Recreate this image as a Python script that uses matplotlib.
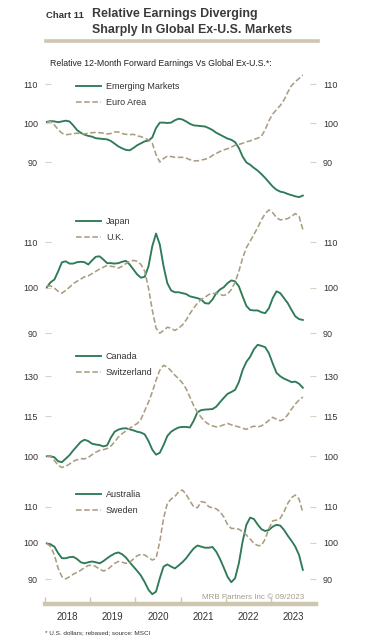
import matplotlib
matplotlib.use("Agg")
import matplotlib.pyplot as plt
import numpy as np

plt.rcParams["font.family"] = ["Liberation Sans", "DejaVu Sans"]

# monthly values, Jan 2018 .. Sep 2023 (rebased = 100)
emerging = [100.3, 100.5, 100.4, 100.2, 100.4, 100.6, 100.4, 99.4, 98.2, 97.5, 97.0, 96.7,
            96.5, 96.1, 96.0, 95.9, 95.8, 95.4, 94.7, 94.0, 93.5, 93.1, 93.0, 93.6,
            94.3, 94.8, 95.3, 95.5, 96.3, 98.7, 100.1, 100.1, 100.0, 100.1, 100.7, 101.1,
            100.9, 100.4, 99.8, 99.4, 99.3, 99.2, 99.1, 98.7, 98.2, 97.5, 97.0, 96.5,
            96.0, 95.7, 95.1, 93.6, 91.4, 89.9, 89.3, 88.5, 87.8, 86.9, 85.9, 84.8,
            83.7, 82.9, 82.4, 82.2, 81.8, 81.5, 81.2, 81.0, 81.4]
euro_area = [100.2, 100.4, 99.5, 98.3, 97.4, 97.0, 97.1, 97.3, 97.4, 97.3, 97.2, 97.4,
             97.5, 97.6, 97.5, 97.4, 97.2, 97.3, 97.7, 97.7, 97.3, 97.1, 97.0, 97.1,
             96.7, 96.5, 96.1, 95.7, 94.8, 91.9, 90.0, 90.9, 91.5, 91.4, 91.2, 91.2,
             91.2, 91.0, 90.6, 90.3, 90.3, 90.5, 90.7, 91.0, 91.7, 92.2, 92.7, 93.1,
             93.4, 93.8, 94.3, 94.5, 94.8, 95.2, 95.4, 95.8, 96.1, 96.6, 98.3, 100.6,
             102.3, 103.4, 104.5, 105.9, 107.9, 109.6, 110.6, 111.4, 112.3]
japan = [100.1, 101.2, 101.8, 103.6, 105.6, 105.8, 105.3, 105.3, 105.6, 105.7, 105.6, 105.1,
         106.0, 106.8, 106.9, 106.2, 105.4, 105.4, 105.3, 105.4, 105.7, 105.9, 105.1, 104.0,
         102.9, 102.2, 102.4, 104.7, 109.1, 111.9, 109.5, 104.7, 101.0, 99.4, 99.0, 99.0,
         98.8, 98.6, 98.1, 97.9, 97.7, 97.4, 96.6, 96.5, 97.4, 98.8, 99.6, 100.1,
         101.0, 101.6, 101.4, 100.3, 98.1, 96.0, 95.1, 95.0, 95.0, 94.6, 94.4, 95.5,
         97.7, 99.2, 98.8, 97.7, 96.6, 95.1, 93.7, 93.1, 92.9]
uk = [100.3, 100.4, 99.9, 99.2, 98.8, 99.4, 100.1, 100.9, 101.4, 101.9, 102.4, 102.6,
      103.1, 103.6, 104.1, 104.5, 104.9, 104.7, 104.6, 104.3, 104.7, 105.3, 105.8, 106.0,
      105.8, 105.1, 103.6, 99.9, 95.1, 91.1, 90.0, 90.6, 91.3, 91.1, 90.6, 91.1,
      91.8, 92.9, 94.3, 95.5, 96.6, 97.4, 97.9, 98.5, 98.7, 98.8, 98.5, 98.3,
      98.6, 99.6, 101.2, 103.6, 106.5, 108.8, 110.2, 111.7, 113.2, 114.9, 116.3, 117.1,
      116.5, 115.4, 114.9, 115.0, 115.2, 115.7, 116.3, 115.7, 112.8]
canada = [100.0, 100.0, 99.6, 98.1, 97.8, 99.1, 100.4, 102.2, 103.8, 105.4, 106.2, 105.7,
          104.7, 104.4, 104.2, 103.7, 104.1, 107.0, 109.2, 110.0, 110.4, 110.5, 110.1, 109.7,
          109.2, 108.9, 108.2, 105.7, 102.5, 100.6, 101.3, 104.2, 107.6, 109.2, 110.1, 110.8,
          111.0, 111.0, 110.8, 113.3, 116.5, 117.3, 117.5, 117.6, 117.7, 118.6, 120.3, 121.9,
          123.4, 124.1, 124.9, 127.8, 132.3, 135.4, 137.3, 140.1, 141.8, 141.4, 140.9, 138.6,
          134.8, 131.3, 130.0, 129.1, 128.5, 127.8, 128.0, 127.2, 125.7]
switzerland = [100.0, 99.9, 98.4, 96.6, 95.8, 96.2, 97.1, 98.1, 98.7, 99.1, 99.0, 99.6,
               100.6, 101.5, 102.2, 102.5, 102.9, 103.8, 105.4, 107.2, 108.5, 109.5, 110.5, 111.4,
               112.3, 113.9, 117.1, 120.3, 124.1, 128.5, 132.3, 134.1, 133.5, 132.0, 130.4, 129.1,
               127.5, 125.3, 122.2, 119.0, 116.5, 114.6, 113.0, 112.0, 111.4, 111.0, 111.3, 111.8,
               112.3, 111.8, 111.4, 111.0, 110.5, 110.1, 110.8, 111.3, 111.0, 111.4, 112.3, 113.5,
               114.6, 113.9, 113.3, 113.9, 115.6, 117.7, 119.6, 121.1, 122.2]
australia = [99.9, 99.6, 99.0, 97.2, 95.8, 95.8, 96.1, 96.2, 95.6, 94.7, 94.4, 94.7,
             94.9, 94.7, 94.4, 95.0, 95.8, 96.5, 97.1, 97.4, 96.9, 96.0, 94.7, 93.5,
             92.3, 91.0, 89.2, 87.1, 85.9, 86.6, 90.3, 93.5, 94.1, 93.5, 93.0, 93.8,
             94.7, 95.8, 97.2, 98.5, 99.3, 99.0, 98.7, 98.7, 98.9, 97.6, 95.6, 93.2,
             90.7, 89.2, 90.3, 94.4, 100.4, 105.0, 107.0, 106.6, 105.1, 103.8, 103.3, 103.6,
             104.5, 105.0, 104.8, 103.6, 102.0, 100.6, 99.0, 96.7, 92.6]
sweden = [99.9, 99.0, 96.7, 93.0, 90.7, 90.1, 90.7, 91.4, 91.9, 92.5, 93.2, 93.8,
          93.9, 93.5, 92.8, 92.3, 92.6, 93.5, 94.4, 94.9, 94.7, 94.4, 94.7, 95.6,
          96.5, 96.9, 96.7, 96.0, 95.3, 95.8, 100.4, 106.8, 110.9, 112.1, 112.8, 114.1,
          114.6, 113.4, 111.6, 110.0, 109.7, 111.4, 111.2, 110.0, 109.7, 109.4, 108.6, 107.2,
          105.1, 104.0, 104.0, 103.8, 103.1, 102.2, 101.1, 99.9, 99.3, 99.3, 101.1, 104.0,
          106.1, 106.3, 106.8, 108.6, 110.9, 112.5, 113.2, 112.1, 108.4]

months = np.arange(len(emerging))
t = 2018 + (months + 0.5) / 12.0
years = [2018, 2019, 2020, 2021, 2022, 2023]

panels = [
    ("Emerging Markets", emerging, "Euro Area", euro_area, [90, 100, 110]),
    ("Japan", japan, "U.K.", uk, [90, 100, 110]),
    ("Canada", canada, "Switzerland", switzerland, [100, 115, 130]),
    ("Australia", australia, "Sweden", sweden, [90, 100, 110]),
]
# panel pixel extents (top, bottom) and y limits
boxes = [(70, 200, 80.26, 113.59), (205, 338, 88.94, 118.18),
         (340, 472, 94.1, 143.6), (478, 604, 83.2, 117.9)]

GREEN = "#2f7a58"
TAN = "#ab9d80"
RULE = "#cfc6b0"
TXT = "#333333"
W, H = 373, 643

fig = plt.figure(figsize=(W / 100, H / 100), dpi=100)
fig.patch.set_facecolor("white")

fig.text(46 / W, 1 - 15 / H, "Chart 11", fontsize=6.8, fontweight="bold", color=TXT, va="center")
fig.text(92 / W, 1 - 8 / H, "Relative Earnings Diverging\nSharply In Global Ex-U.S. Markets",
         fontsize=8.9, fontweight="bold", color="#3a3a3a", va="top", linespacing=1.45)
fig.add_artist(plt.Line2D([46 / W, 318 / W], [1 - 41 / H, 1 - 41 / H], color=RULE, lw=2.6))
fig.text(50 / W, 1 - 64 / H, "Relative 12-Month Forward Earnings Vs Global Ex-U.S.*:",
         fontsize=6.3, color="#222222", va="center")

for i, ((n1, s1, n2, s2, ticks), (top, bot, y0, y1)) in enumerate(zip(panels, boxes)):
    ax = fig.add_axes([45 / W, 1 - bot / H, 271 / W, (bot - top) / H])
    ax.plot(t, s1, color=GREEN, lw=1.35, label=n1)
    ax.plot(t, s2, color=TAN, lw=1.15, dashes=(3.5, 1.6), label=n2)
    ax.set_xlim(2018.0, 2024.0)
    ax.set_ylim(y0, y1)
    ax.set_yticks(ticks)
    ax.tick_params(axis="y", which="both", direction="in", length=4, width=0.8,
                   color="#d9d2c2", labelsize=6.5, labelcolor=TXT, pad=5,
                   left=True, right=True, labelleft=True, labelright=True)
    for side in ("top", "left", "right", "bottom"):
        ax.spines[side].set_visible(False)
    ax.patch.set_alpha(0)
    leg = ax.legend(loc="upper left", bbox_to_anchor=(0.115, 1 - 12 / (bot - top)),
                    frameon=False, fontsize=6.5, handlelength=2.7, handletextpad=0.6,
                    labelspacing=0.75, borderpad=0, borderaxespad=0)
    for txt in leg.get_texts():
        txt.set_color(TXT)
    if i < 3:
        ax.set_xticks([])
    else:
        ax.spines["bottom"].set_visible(True)
        ax.spines["bottom"].set_color(RULE)
        ax.spines["bottom"].set_linewidth(3.2)
        ax.set_xticks(years)
        ax.set_xticklabels([])
        ax.set_xticks([y + 0.5 for y in years], minor=True)
        ax.set_xticklabels([str(y) for y in years], minor=True)
        ax.tick_params(axis="x", which="major", direction="in", length=5, width=1, color=RULE)
        ax.tick_params(axis="x", which="minor", length=0, labelsize=7, labelcolor=TXT, pad=6)
        ax.text(0.955, 0.055, "MRB Partners Inc \u00a9 09/2023", transform=ax.transAxes,
                ha="right", va="center", fontsize=5.8, color="#a49c88")

fig.text(45 / W, 1 - 633 / H, "* U.S. dollars; rebased; source: MSCI",
         fontsize=4.6, color=TXT, va="center")

fig.savefig("out.png", dpi=100, facecolor="white")
